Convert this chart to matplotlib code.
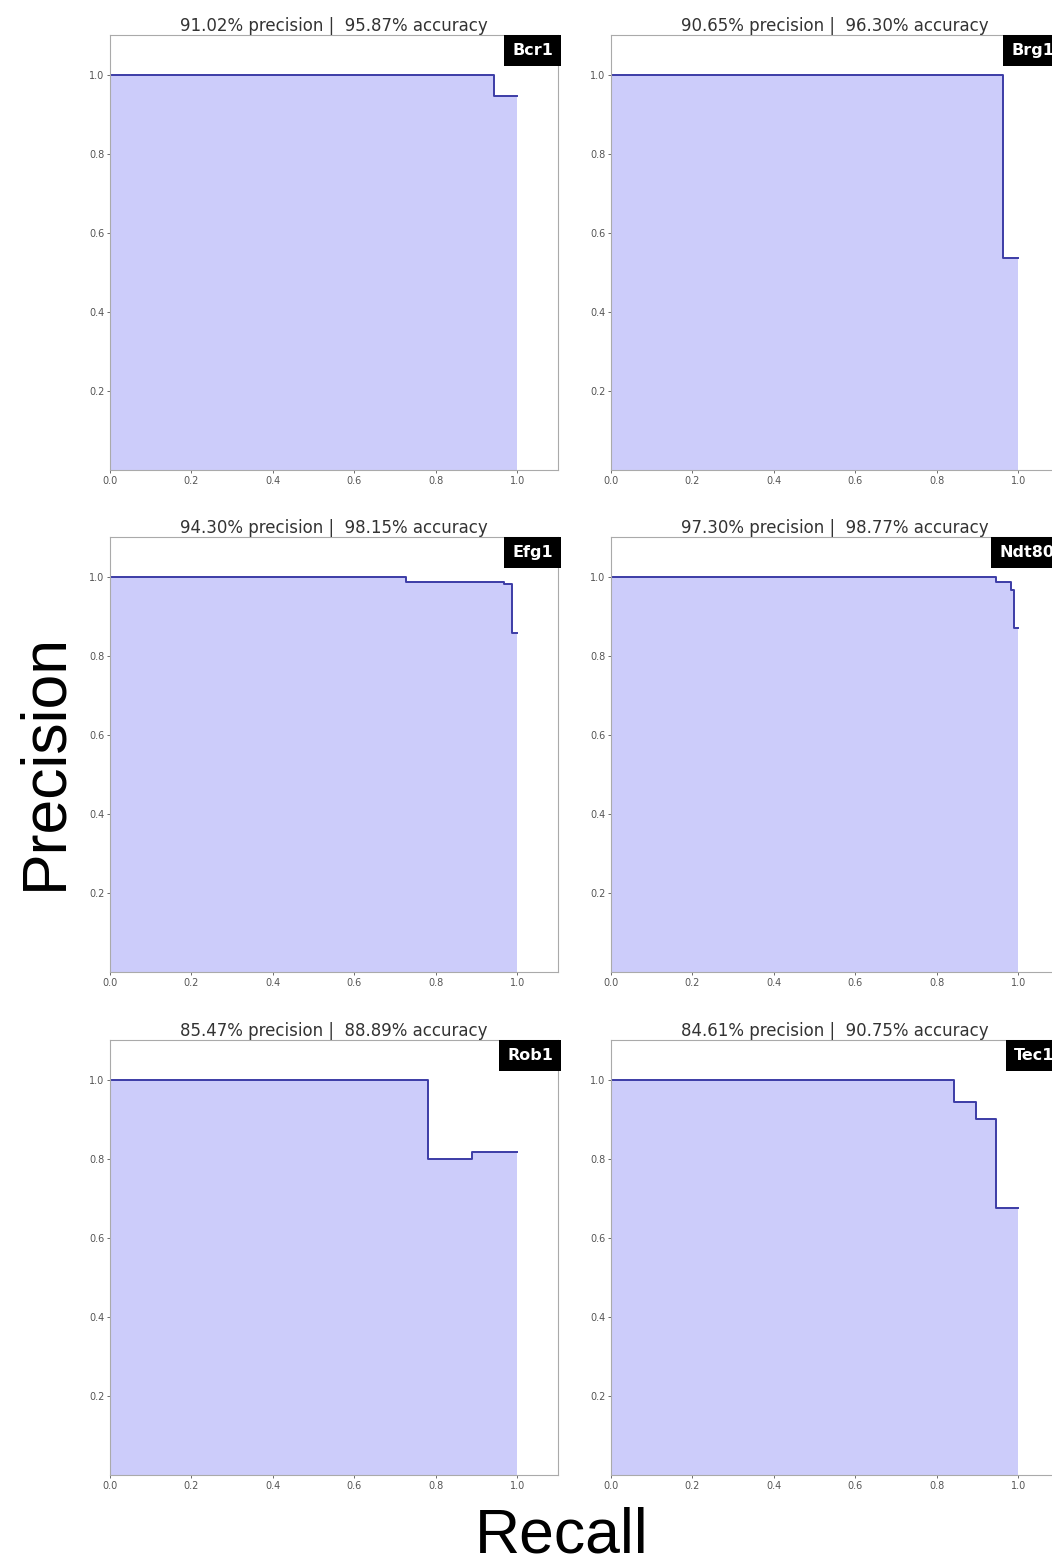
import matplotlib.pyplot as plt

# precision-recall curves per transcription factor
names = ['Bcr1', 'Brg1', 'Efg1', 'Ndt80', 'Rob1', 'Tec1']
precision_pct = ['91.02', '90.65', '94.30', '97.30', '85.47', '84.61']
accuracy_pct = ['95.87', '96.30', '98.15', '98.77', '88.89', '90.75']

recall_bcr1 = [0.0, 0.944, 1.0]
prec_bcr1 = [1.0, 0.947, 0.947]
recall_brg1 = [0.0, 0.963, 1.0]
prec_brg1 = [1.0, 0.537, 0.537]
recall_efg1 = [0.0, 0.728, 0.968, 0.988, 1.0]
prec_efg1 = [1.0, 0.987, 0.980, 0.856, 0.856]
recall_ndt80 = [0.0, 0.946, 0.983, 0.990, 1.0]
prec_ndt80 = [1.0, 0.985, 0.967, 0.871, 0.871]
recall_rob1 = [0.0, 0.780, 0.890, 1.0]
prec_rob1 = [1.0, 0.800, 0.818, 0.818]
recall_tec1 = [0.0, 0.841, 0.897, 0.946, 1.0]
prec_tec1 = [1.0, 0.944, 0.901, 0.676, 0.676]

recalls = [recall_bcr1, recall_brg1, recall_efg1, recall_ndt80, recall_rob1, recall_tec1]
precs = [prec_bcr1, prec_brg1, prec_efg1, prec_ndt80, prec_rob1, prec_tec1]

W, H = 1052, 1564
fig = plt.figure(figsize=(W / 100, H / 100), dpi=100)

# axes boxes in pixels: left, top
lefts = [110, 611]
tops = [35, 537, 1040]
aw, ah = 448, 435

fill_col = '#ccccfa'
line_col = '#3c3ca6'

tag_pad = 8  # pixels around the name tag text

for i, name in enumerate(names):
    row, col = divmod(i, 2)
    l = lefts[col] / W
    b = 1 - (tops[row] + ah) / H
    ax = fig.add_axes((l, b, aw / W, ah / H))
    r = recalls[i]
    p = precs[i]
    ax.fill_between(r, p, 0, step='post', color=fill_col, linewidth=0)
    ax.step(r, p, where='post', color=line_col, linewidth=1.4)
    ax.set_xlim(0, 1.1)
    ax.set_ylim(0, 1.1)
    ax.set_xticks([0.0, 0.2, 0.4, 0.6, 0.8, 1.0])
    ax.set_yticks([0.2, 0.4, 0.6, 0.8, 1.0])
    ax.set_xticklabels(['0.0', '0.2', '0.4', '0.6', '0.8', '1.0'])
    ax.set_yticklabels(['0.2', '0.4', '0.6', '0.8', '1.0'])
    ax.tick_params(labelsize=7, colors='#555555', length=2, width=0.6, pad=2)
    for s in ax.spines.values():
        s.set_color('#aaaaaa')
        s.set_linewidth(0.8)
    ax.set_title(f'{precision_pct[i]}% precision |  {accuracy_pct[i]}% accuracy',
                 fontsize=12, color='#333333', pad=2)
    # black name tag in the upper right corner
    ax.annotate(name, xy=(1, 1), xycoords='axes fraction',
                xytext=(-tag_pad + 3, -tag_pad), textcoords='offset pixels',
                ha='right', va='top', fontsize=11.5, fontweight='bold', color='white',
                annotation_clip=False, zorder=6,
                bbox=dict(boxstyle='square,pad=0.5', facecolor='black', edgecolor='none'))

fig.text(45 / W, 1 - 762 / H, 'Precision', rotation=90, ha='center', va='center',
         fontsize=45, family='Liberation Sans')
fig.text(562 / W, 1 - 1536 / H, 'Recall', ha='center', va='center',
         fontsize=45, family='Liberation Sans')

fig.savefig('out.png', dpi=100)
